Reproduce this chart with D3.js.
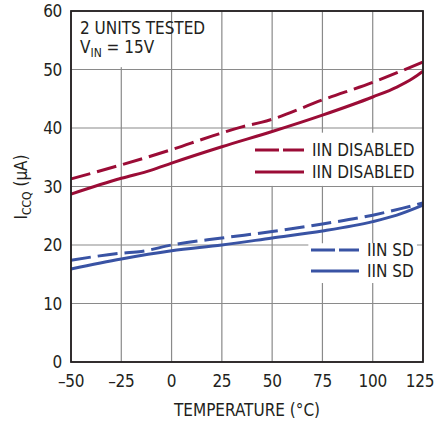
<!DOCTYPE html>
<html>
<head>
<meta charset="utf-8">
<script src="https://cdn.jsdelivr.net/npm/d3@7"></script>
<style>
  body { margin: 0; background: #fff; }
  svg text { font-family: "Liberation Sans Narrow", "DejaVu Sans Condensed", sans-serif; fill: #231f20; }
</style>
</head>
<body>
<svg width="435" height="421"></svg>
<script>
// data
const xTicks = [-50, -25, 0, 25, 50, 75, 100, 125];
const yTicks = [0, 10, 20, 30, 40, 50, 60];

const disDashT = [-50, -25, 0, 20, 35, 45, 50, 75, 100, 125];
const disDashV = [31.3, 33.7, 36.3, 38.6, 40.2, 41.0, 41.5, 44.8, 47.8, 51.3];

const disSolidT = [-50, -25, -10, 0, 25, 50, 75, 100, 112, 120, 125];
const disSolidV = [28.7, 31.4, 32.8, 34.0, 36.8, 39.4, 42.2, 45.3, 47.0, 48.5, 49.7];

const sdDashT = [-50, -25, -15, 0, 25, 50, 75, 100, 115, 125];
const sdDashV = [17.4, 18.6, 18.9, 20.0, 21.2, 22.3, 23.6, 25.1, 26.3, 27.2];

const sdSolidT = [-50, -25, 0, 25, 50, 75, 100, 112, 125];
const sdSolidV = [15.9, 17.6, 19.0, 20.0, 21.2, 22.4, 24.0, 25.1, 26.8];

const red = "#9b0c36", blue = "#3953a4";

const svg = d3.select("svg"),
    margin = { top: 11, right: 12, bottom: 59, left: 71 },
    width = +svg.attr("width") - margin.left - margin.right,
    height = +svg.attr("height") - margin.top - margin.bottom;

const x = d3.scaleLinear().domain([-50, 125]).range([0, width]),
    y = d3.scaleLinear().domain([0, 60]).range([height, 0]),
    g = svg.append("g").attr("transform", `translate(${margin.left},${margin.top})`);

// grid
g.selectAll(".vg").data(xTicks).enter().append("line")
    .attr("x1", d => x(d)).attr("x2", d => x(d))
    .attr("y1", 0).attr("y2", height)
    .attr("stroke", "#8a8a8a").attr("stroke-width", 1.2);
g.selectAll(".hg").data(yTicks).enter().append("line")
    .attr("x1", 0).attr("x2", width)
    .attr("y1", d => y(d)).attr("y2", d => y(d))
    .attr("stroke", "#8a8a8a").attr("stroke-width", 1.2);

// white boxes behind texts
g.append("rect").attr("x", 1).attr("y", 1).attr("width", x(-15) - 1).attr("height", y(50.4) - 1).attr("fill", "#fff");
g.append("rect").attr("x", x(42)).attr("y", y(39.2)).attr("width", width - x(42) - 1).attr("height", y(30.1) - y(39.2)).attr("fill", "#fff");
g.append("rect").attr("x", x(68)).attr("y", y(20.3)).attr("width", x(122) - x(68)).attr("height", y(13.5) - y(20.3)).attr("fill", "#fff");

// curves
const series = [
    { t: disDashT, v: disDashV, c: red, dash: "20,7" },
    { t: disSolidT, v: disSolidV, c: red, dash: null },
    { t: sdDashT, v: sdDashV, c: blue, dash: "20,7" },
    { t: sdSolidT, v: sdSolidV, c: blue, dash: null }
];
const line = d3.line().x(d => x(d[0])).y(d => y(d[1])).curve(d3.curveMonotoneX);
series.forEach(s => {
    g.append("path")
        .datum(s.t.map((t, i) => [t, s.v[i]]))
        .attr("d", line)
        .attr("fill", "none")
        .attr("stroke", s.c)
        .attr("stroke-width", 3)
        .attr("stroke-dasharray", s.dash);
});

// frame
g.append("rect").attr("width", width).attr("height", height)
    .attr("fill", "none").attr("stroke", "#231f20").attr("stroke-width", 1.8);

// tick labels
g.selectAll(".xt").data(xTicks).enter().append("text")
    .attr("x", d => x(d) - (d === 125 ? 3 : 0)).attr("y", height + 25)
    .attr("text-anchor", "middle").attr("font-size", 17)
    .attr("letter-spacing", -0.3)
    .text(d => d < 0 ? "\u2013" + Math.abs(d) : d);
g.selectAll(".yt").data(yTicks).enter().append("text")
    .attr("x", -9).attr("y", d => y(d) + 6)
    .attr("text-anchor", "end").attr("font-size", 17)
    .attr("letter-spacing", -0.3)
    .text(d => d);

// axis titles
g.append("text").attr("x", x(37.5)).attr("y", height + 54)
    .attr("text-anchor", "middle").attr("font-size", 17)
    .text("TEMPERATURE (\u00b0C)");
const yl = svg.append("text").attr("transform", "translate(27,187) rotate(-90)")
    .attr("text-anchor", "middle").attr("font-size", 17);
yl.append("tspan").text("I");
yl.append("tspan").attr("font-size", 12).attr("dy", 4).text("CCQ");
yl.append("tspan").attr("dy", -4).text(" (\u03bcA)");

// annotation
g.append("text").attr("x", 9).attr("y", 23).attr("font-size", 17).text("2 UNITS TESTED");
const vin = g.append("text").attr("x", 9).attr("y", 42).attr("font-size", 17);
vin.append("tspan").text("V");
vin.append("tspan").attr("font-size", 12).attr("dy", 4).text("IN");
vin.append("tspan").attr("dy", -4).text(" = 15V");

// legends
const legends = [
    { x0: 255 - margin.left, x1: 304 - margin.left, yv: 150 - margin.top, c: red, dash: "24,4", label: "IIN DISABLED", tx: 312 - margin.left },
    { x0: 255 - margin.left, x1: 304 - margin.left, yv: 172 - margin.top, c: red, dash: null, label: "IIN DISABLED", tx: 312 - margin.left },
    { x0: 311 - margin.left, x1: 359 - margin.left, yv: 250 - margin.top, c: blue, dash: "24,4", label: "IIN SD", tx: 367 - margin.left },
    { x0: 311 - margin.left, x1: 359 - margin.left, yv: 271 - margin.top, c: blue, dash: null, label: "IIN SD", tx: 367 - margin.left }
];
legends.forEach(l => {
    g.append("line").attr("x1", l.x0).attr("x2", l.x1).attr("y1", l.yv).attr("y2", l.yv)
        .attr("stroke", l.c).attr("stroke-width", 3).attr("stroke-dasharray", l.dash);
    g.append("text").attr("x", l.tx).attr("y", l.yv + 6).attr("font-size", 17).text(l.label);
});
</script>
</body>
</html>
